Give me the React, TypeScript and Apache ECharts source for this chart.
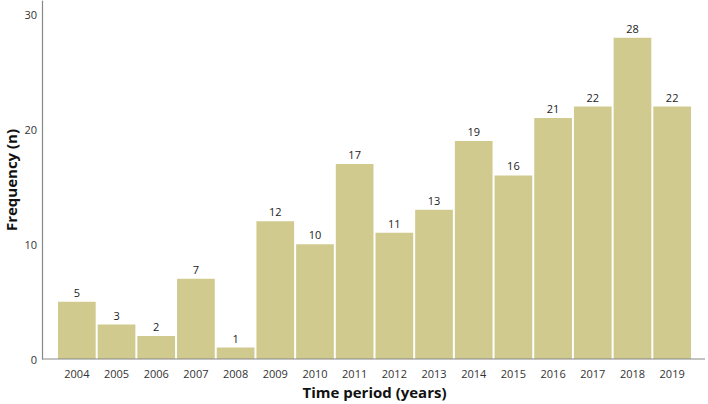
import React, { useEffect, useRef } from "react";
import * as echarts from "echarts";

const years = ["2004","2005","2006","2007","2008","2009","2010","2011","2012","2013","2014","2015","2016","2017","2018","2019"];
const frequency = [5, 3, 2, 7, 1, 12, 10, 17, 11, 13, 19, 16, 21, 22, 28, 22];
const yTicks = [0, 10, 20, 30];

export default function App() {
  const ref = useRef<HTMLDivElement>(null);
  useEffect(() => {
    const chart = echarts.init(ref.current!, null, { renderer: "svg" });
    chart.setOption({
      animation: false,
      textStyle: { fontFamily: "Open Sans, sans-serif" },
      grid: { left: 57, right: 16, top: 1, bottom: 45, containLabel: false, outerBoundsMode: "none" },
      xAxis: {
        type: "category",
        data: years,
        axisLine: { show: false },
        axisTick: { show: false },
        axisLabel: { color: "#333", fontSize: 11, margin: 9 },
        name: "Time period (years)",
        nameLocation: "middle",
        nameGap: 25,
        nameTextStyle: { fontSize: 15, fontWeight: "bold", color: "#111" },
      },
      yAxis: {
        type: "value",
        min: 0,
        max: 31.2,
        interval: 10,
        offset: 15,
        splitLine: { show: false },
        axisLine: { show: true, lineStyle: { color: "#888", width: 1.2 } },
        axisTick: { show: false },
        axisLabel: {
          color: "#333",
          fontSize: 11,
          margin: 5,
          formatter: (v: number) => (yTicks.includes(v) ? String(v) : ""),
        },
        name: "Frequency (n)",
        nameLocation: "middle",
        nameGap: 24,
        nameMoveOverlap: false,
        nameRotate: 90,
        nameTextStyle: { fontSize: 15, fontWeight: "bold", color: "#111" },
      },
      graphic: [
        {
          type: "line",
          shape: { x1: 42, y1: 359, x2: 705, y2: 359 },
          style: { stroke: "#888", lineWidth: 1.2 },
          z: 10,
        },
      ],
      series: [
        {
          type: "bar",
          data: frequency,
          barCategoryGap: "5%",
          itemStyle: { color: "#d1ca8e" },
          label: { show: true, position: "top", color: "#222", fontSize: 11, distance: 4 },
        },
      ],
    });
    return () => chart.dispose();
  }, []);
  return <div ref={ref} style={{ width: 708, height: 404, position: "absolute", left: 0, top: 0 }} />;
}
